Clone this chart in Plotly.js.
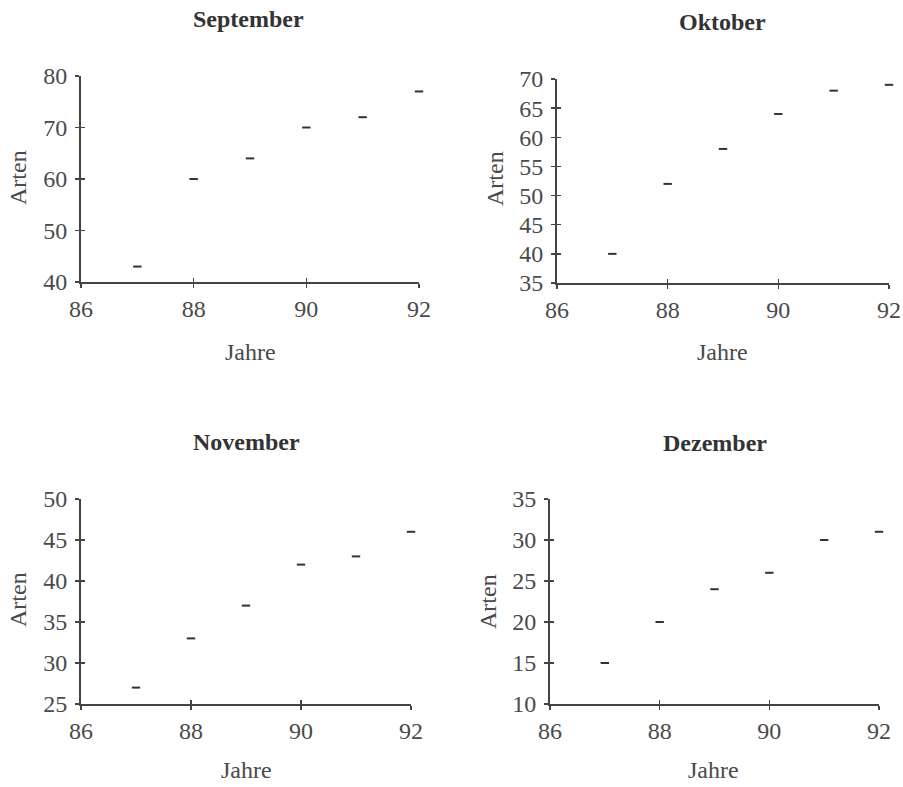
<!DOCTYPE html>
<html>
<head>
<meta charset="utf-8">
<script src="https://cdn.plot.ly/plotly-3.0.1.min.js"></script>
<style>html,body{margin:0;padding:0;background:#fff;}#chart{width:903px;height:787px;}</style>
</head>
<body>
<div id="chart"></div>
<script>
// ---- data ----
const years = [87, 88, 89, 90, 91, 92];
const septemberArten = [43, 60, 64, 70, 72, 77];
const oktoberArten = [40, 52, 58, 64, 68, 69];
const novemberArten = [27, 33, 37, 42, 43, 46];
const dezemberArten = [15, 20, 24, 26, 30, 31];
const panelTitles = ['September', 'Oktober', 'November', 'Dezember'];
const xTickVals = [86, 88, 90, 92];
const xTitle = 'Jahre';
const yTitle = 'Arten';
const yRanges = [[40, 80], [35, 70], [25, 50], [10, 35]];
const yDticks = [10, 5, 5, 5];
const series = [septemberArten, oktoberArten, novemberArten, dezemberArten];

// ---- layout (pixel boxes) ----
const W = 903, H = 787;
const boxes = [
  {x0: 81, x1: 419, y0: 76, y1: 282, title: [248, 19], xt: [250, 352], yt: [18, 178]},
  {x0: 557, x1: 889, y0: 79, y1: 283, title: [722, 22], xt: [722, 352], yt: [495, 179]},
  {x0: 81, x1: 411, y0: 499, y1: 704, title: [246, 442], xt: [246, 770], yt: [18, 600]},
  {x0: 550, x1: 879, y0: 499, y1: 704, title: [715, 443], xt: [713, 770], yt: [488, 602]}
];
const px = v => v / W;
const py = v => 1 - v / H;

const FONT = '"Liberation Serif", "Times New Roman", serif';
const TEXT = '#4a4a4a';
const LINE = '#444444';

const traces = [];
const layout = {
  width: W, height: H,
  margin: {l: 0, r: 0, t: 0, b: 0},
  paper_bgcolor: '#ffffff', plot_bgcolor: '#ffffff',
  showlegend: false,
  font: {family: FONT, color: TEXT, size: 24},
  annotations: []
};

boxes.forEach((b, i) => {
  const n = i + 1, m = i + 5;
  traces.push({
    type: 'scatter', mode: 'markers',
    x: years, y: series[i],
    xaxis: 'x' + n, yaxis: 'y' + n,
    marker: {symbol: 'line-ew', size: 6, line: {color: '#333', width: 2}},
    cliponaxis: false, hoverinfo: 'x+y'
  });
  // overlay empty trace for inside ticks
  traces.push({type: 'scatter', mode: 'markers', x: [], y: [], xaxis: 'x' + m, yaxis: 'y' + m, hoverinfo: 'skip'});

  const xd = [px(b.x0), px(b.x1)];
  const yd = [py(b.y1), py(b.y0)];
  const common = {showgrid: false, zeroline: false, fixedrange: true};
  layout['xaxis' + n] = Object.assign({}, common, {
    domain: xd, anchor: 'y' + n, range: [86, 92],
    tickvals: xTickVals, ticks: 'outside', ticklen: 4, tickwidth: 1.5, tickcolor: LINE,
    showline: true, linecolor: LINE, linewidth: 2,
    tickfont: {family: FONT, size: 24, color: TEXT}, ticklabelstandoff: 0
  });
  layout['yaxis' + n] = Object.assign({}, common, {
    domain: yd, anchor: 'x' + n, range: yRanges[i], dtick: yDticks[i], tick0: 0,
    ticks: 'outside', ticklen: 4, tickwidth: 1.5, tickcolor: LINE,
    showline: true, linecolor: LINE, linewidth: 2,
    tickfont: {family: FONT, size: 24, color: TEXT}, ticklabelstandoff: 3
  });
  layout['xaxis' + m] = Object.assign({}, common, {
    domain: xd, anchor: 'y' + m, overlaying: 'x' + n, range: [86, 92],
    tickvals: xTickVals, ticks: 'inside', ticklen: 4, tickwidth: 1.5, tickcolor: LINE,
    showline: false, showticklabels: false
  });
  layout['yaxis' + m] = Object.assign({}, common, {
    domain: yd, anchor: 'x' + m, overlaying: 'y' + n, range: yRanges[i], dtick: yDticks[i], tick0: 0,
    ticks: 'inside', ticklen: 4, tickwidth: 1.5, tickcolor: LINE,
    showline: false, showticklabels: false
  });

  layout.annotations.push({
    text: '<b>' + panelTitles[i] + '</b>', xref: 'paper', yref: 'paper',
    x: px(b.title[0]), y: py(b.title[1]), xanchor: 'center', yanchor: 'middle',
    showarrow: false, font: {family: FONT, size: 24, color: '#333'}
  });
  layout.annotations.push({
    text: xTitle, xref: 'paper', yref: 'paper',
    x: px(b.xt[0]), y: py(b.xt[1]), xanchor: 'center', yanchor: 'middle',
    showarrow: false, font: {family: FONT, size: 24, color: TEXT}
  });
  layout.annotations.push({
    text: yTitle, xref: 'paper', yref: 'paper', textangle: -90,
    x: px(b.yt[0]), y: py(b.yt[1]), xanchor: 'center', yanchor: 'middle',
    showarrow: false, font: {family: FONT, size: 24, color: TEXT}
  });
});

Plotly.newPlot('chart', traces, layout, {staticPlot: true, displayModeBar: false});
</script>
</body>
</html>
